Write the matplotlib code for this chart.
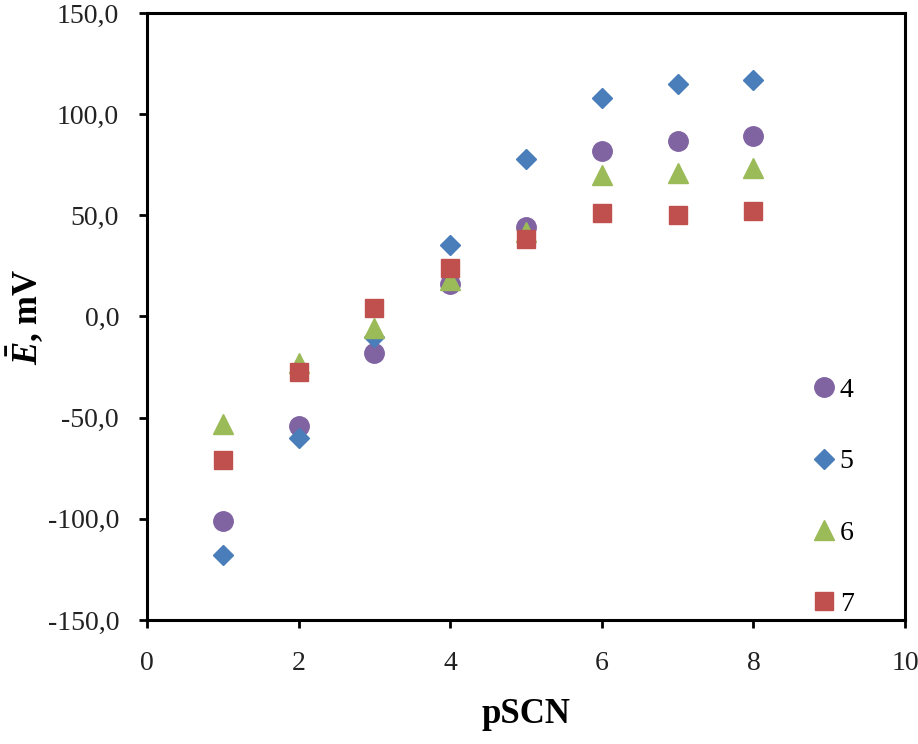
import numpy as np
import matplotlib.pyplot as plt
from matplotlib.ticker import FuncFormatter, MultipleLocator

plt.rcParams['font.family'] = ['Liberation Serif', 'DejaVu Serif']
plt.rcParams['mathtext.fontset'] = 'custom'
plt.rcParams['mathtext.it'] = 'Liberation Serif:bold:italic'
plt.rcParams['mathtext.rm'] = 'Liberation Serif:bold'

# pSCN values and electrode potentials (mV) for each series
pscn = [1, 2, 3, 4, 5, 6, 7, 8]
e4 = [-101, -54, -18, 16, 44, 82, 86.5, 89]
e5 = [-118, -60, -10, 35.5, 78, 108, 115, 117]
e6 = [-53, -23, -5.5, 18, 42, 70, 71, 73.5]
e7 = [-71, -27.5, 4, 24, 38.5, 51, 50, 52]
labels = ['4', '5', '6', '7']

fig = plt.figure(figsize=(9.18, 7.44), dpi=100)
ax = fig.add_axes([0.160, 0.1667, 0.826, 0.8158])

ax.plot(pscn, e4, 'o', ms=14, color='#8064A2', label=labels[0])
ax.plot(pscn, e5, 'D', ms=10.5, color='#4A7EBB', label=labels[1])
ax.plot(pscn, e6, '^', ms=15, color='#9BBB59', label=labels[2])
ax.plot(pscn, e7, 's', ms=13.5, color='#C0504D', label=labels[3])

ax.set_xlim(0, 10)
ax.set_ylim(-150, 150)
ax.xaxis.set_major_locator(MultipleLocator(2))
ax.yaxis.set_major_locator(MultipleLocator(50))
ax.yaxis.set_major_formatter(FuncFormatter(lambda v, p: f"{v:.1f}".replace('.', ',')))

for s in ax.spines.values():
    s.set_linewidth(2.2)
    s.set_color('black')
ax.tick_params(direction='out', length=6, width=2, labelsize=20,
               labelcolor='#222222')
ax.tick_params(axis='x', pad=16)
ax.tick_params(axis='y', pad=14)

ax.set_xlabel('pSCN', fontsize=25, fontweight='bold', labelpad=16)
ax.set_ylabel(r'$\bar{E}$, mV', fontsize=25, fontweight='bold', labelpad=2)

ax.legend(loc='lower right', bbox_to_anchor=(0.932, 0.005), frameon=False,
          fontsize=20, labelspacing=1.65, handlelength=0.8, handletextpad=0.15,
          borderpad=0, borderaxespad=0, numpoints=1)

fig.savefig('out.png', dpi=100)
